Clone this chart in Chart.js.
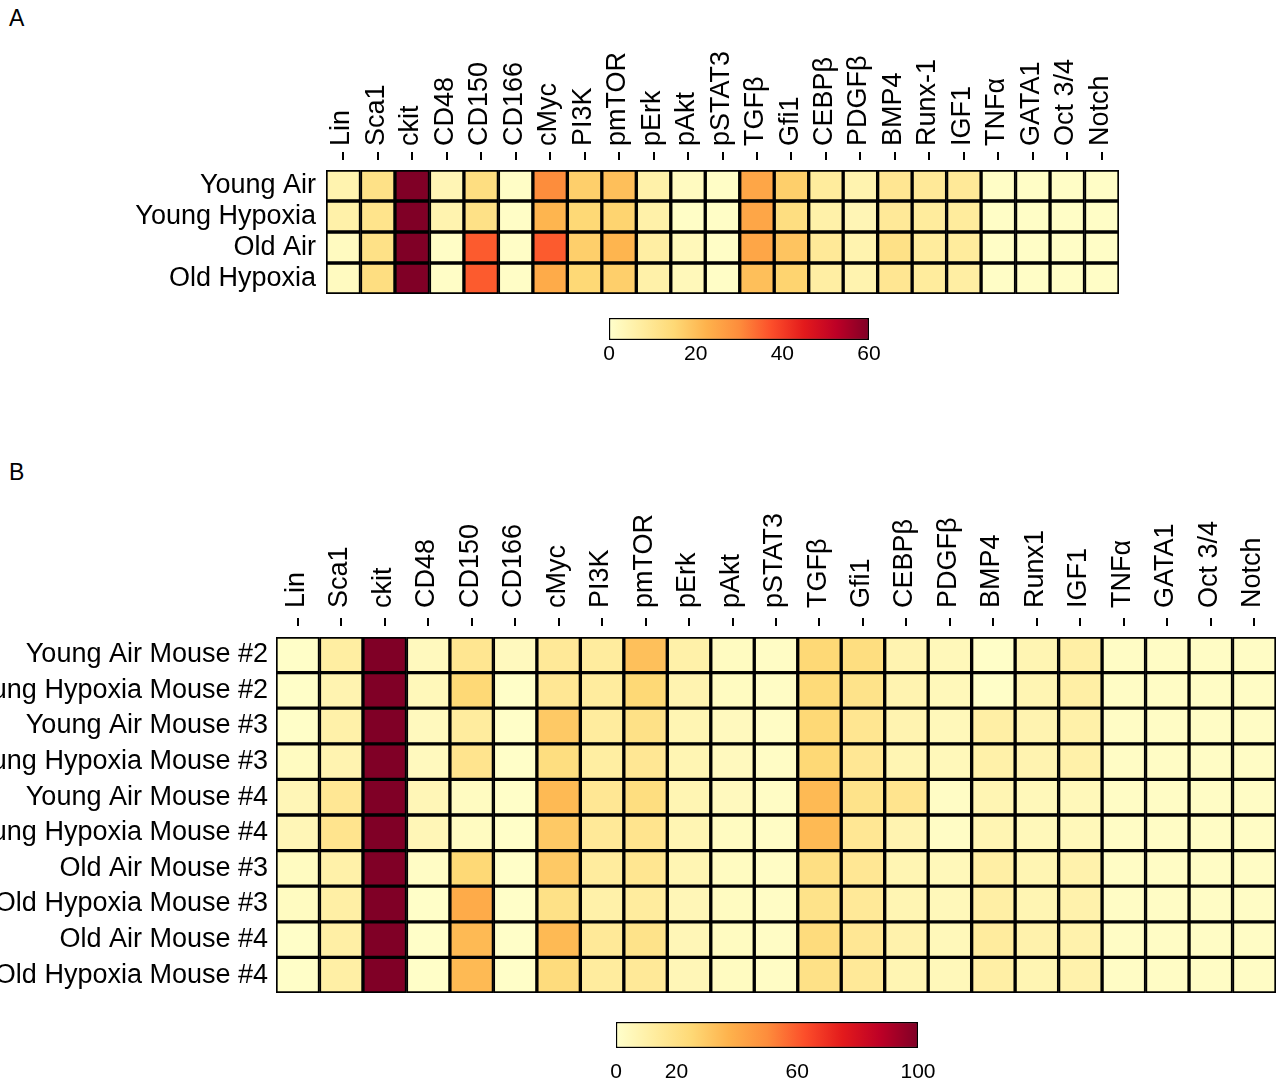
<!DOCTYPE html>
<html>
<head>
<meta charset="utf-8">
<script src="https://cdn.jsdelivr.net/npm/chart.js@4.4.0/dist/chart.umd.min.js"></script>
<style>
  body { margin: 0; width: 1280px; height: 1082px; overflow: hidden; background: #fff; font-family: "Liberation Sans", Arial, sans-serif; }
  .box { position: absolute; left: 0; width: 1280px; }
  .letter { position: absolute; left: 9px; font-size: 23px; color: #000; }
</style>
</head>
<body>
<div class="letter" style="top:5px">A</div>
<div class="letter" style="top:459px">B</div>
<div class="box" style="top:0;height:300px"><canvas id="heatA"></canvas></div>
<div class="box" style="top:310px;height:60px"><canvas id="barA"></canvas></div>
<div class="box" style="top:470px;height:530px"><canvas id="heatB"></canvas></div>
<div class="box" style="top:1014px;height:68px"><canvas id="barB"></canvas></div>
<script>
// markers (columns)
const colsA = ['Lin', 'Sca1', 'ckit', 'CD48', 'CD150', 'CD166', 'cMyc', 'PI3K', 'pmTOR', 'pErk', 'pAkt', 'pSTAT3',
  'TGFβ', 'Gfi1', 'CEBPβ', 'PDGFβ', 'BMP4', 'Runx-1', 'IGF1', 'TNFα', 'GATA1', 'Oct 3/4', 'Notch'];
const colsB = ['Lin', 'Sca1', 'ckit', 'CD48', 'CD150', 'CD166', 'cMyc', 'PI3K', 'pmTOR', 'pErk', 'pAkt', 'pSTAT3',
  'TGFβ', 'Gfi1', 'CEBPβ', 'PDGFβ', 'BMP4', 'Runx1', 'IGF1', 'TNFα', 'GATA1', 'Oct 3/4', 'Notch'];

// panel A: pooled groups
const rowsA = ['Young Air', 'Young Hypoxia', 'Old Air', 'Old Hypoxia'];
const youngAir      = [5, 12, 60, 4, 13, 1, 30, 17, 20, 6, 2, 1, 25, 17, 8, 5, 10, 9, 9, 1, 1, 1, 1];
const youngHypoxia  = [6, 11, 60, 5, 12, 1, 22, 15, 16, 6, 1, 1, 25, 13, 6, 4, 9, 8, 8, 1, 1, 1, 1];
const oldAir        = [2, 12, 60, 1, 36, 1, 36, 17, 22, 7, 3, 1, 25, 19, 9, 5, 12, 8, 8, 1, 1, 1, 1];
const oldHypoxia    = [2, 13, 60, 1, 36, 1, 24, 15, 17, 6, 3, 1, 20, 16, 7, 5, 10, 8, 7, 1, 1, 1, 1];
const valuesA = [youngAir, youngHypoxia, oldAir, oldHypoxia];
const maxA = 60;
const ticksA = [0, 20, 40, 60];

// panel B: individual mice
const rowsB = ['Young Air Mouse #2', 'Young Hypoxia Mouse #2', 'Young Air Mouse #3', 'Young Hypoxia Mouse #3',
  'Young Air Mouse #4', 'Young Hypoxia Mouse #4', 'Old Air Mouse #3', 'Old Hypoxia Mouse #3',
  'Old Air Mouse #4', 'Old Hypoxia Mouse #4'];
const yaM2 = [1, 12, 100, 4, 17, 4, 15, 13, 33, 10, 3, 2, 25, 22, 8, 5, 1, 7, 11, 2, 2, 2, 2];
const yhM2 = [1, 8, 100, 5, 25, 1, 16, 13, 25, 8, 3, 2, 24, 19, 8, 5, 1, 7, 11, 2, 2, 2, 2];
const yaM3 = [1, 10, 100, 4, 13, 1, 30, 13, 20, 7, 4, 2, 25, 17, 8, 5, 11, 8, 10, 2, 2, 2, 2];
const yhM3 = [3, 8, 100, 4, 18, 1, 22, 12, 16, 7, 4, 2, 25, 16, 7, 5, 10, 8, 10, 2, 2, 2, 2];
const yaM4 = [6, 16, 100, 6, 3, 1, 35, 16, 22, 7, 4, 2, 35, 19, 18, 2, 7, 5, 5, 2, 2, 2, 2];
const yhM4 = [6, 18, 100, 6, 3, 1, 30, 15, 18, 7, 3, 2, 35, 16, 8, 2, 7, 5, 5, 2, 2, 2, 2];
const oaM3 = [3, 10, 100, 2, 25, 1, 30, 13, 17, 7, 3, 2, 21, 16, 7, 5, 11, 7, 9, 2, 2, 2, 2];
const ohM3 = [3, 11, 100, 1, 40, 1, 20, 10, 13, 6, 3, 2, 19, 15, 7, 5, 11, 7, 9, 2, 2, 2, 2];
const oaM4 = [1, 11, 100, 1, 35, 1, 35, 15, 19, 6, 3, 2, 23, 16, 9, 5, 13, 9, 9, 2, 2, 2, 2];
const ohM4 = [1, 11, 100, 1, 35, 1, 23, 13, 15, 6, 3, 2, 20, 15, 7, 5, 11, 7, 9, 2, 2, 2, 2];
const valuesB = [yaM2, yhM2, yaM3, yhM3, yaM4, yhM4, oaM3, ohM3, oaM4, ohM4];
const maxB = 100;
const ticksB = [0, 20, 60, 100];

const FONT = '"Liberation Sans", Arial, sans-serif';

// YlOrRd
const palette = ['#ffffcc', '#ffeda0', '#fed976', '#feb24c', '#fd8d3c', '#fc4e2a', '#e31a1c', '#bd0026', '#800026'];
const rgb = palette.map(h => [1, 3, 5].map(i => parseInt(h.substr(i, 2), 16)));

function colorAt(t) {
  t = Math.max(0, Math.min(1, t));
  const p = t * (rgb.length - 1);
  const i = Math.min(Math.floor(p), rgb.length - 2);
  const f = p - i;
  const c = rgb[i].map((v, k) => Math.round(v + (rgb[i + 1][k] - v) * f));
  return 'rgb(' + c.join(',') + ')';
}

// small ticks between the column labels and the grid
const tickMarks = {
  id: 'tickMarks',
  afterDraw(chart, args, o) {
    const x = chart.scales.x;
    const top = chart.chartArea.top;
    const ctx = chart.ctx;
    ctx.save();
    ctx.strokeStyle = '#000';
    ctx.lineWidth = 2;
    x.ticks.forEach((t, i) => {
      const px = Math.round(x.getPixelForTick(i));
      ctx.beginPath();
      ctx.moveTo(px, top - o.from);
      ctx.lineTo(px, top - o.to);
      ctx.stroke();
    });
    ctx.restore();
  }
};

function heatmap(id, cols, rows, values, vmax, o) {
  const datasets = rows.map((name, r) => ({
    label: name,
    data: cols.map(() => [r, r + 1]),
    backgroundColor: values[r].map(v => colorAt(v / vmax)),
    borderColor: '#000',
    borderWidth: 2,
    borderSkipped: false,
    categoryPercentage: 1,
    barPercentage: 1,
    grouped: false
  }));

  new Chart(document.getElementById(id), {
    type: 'bar',
    data: { labels: cols, datasets: datasets },
    plugins: [tickMarks],
    options: {
      responsive: true,
      maintainAspectRatio: false,
      animation: false,
      layout: { padding: o.pad },
      plugins: {
        legend: { display: false },
        tooltip: { enabled: false },
        tickMarks: o.marks
      },
      scales: {
        x: {
          position: 'top',
          grid: { display: false, drawTicks: false },
          border: { display: false },
          afterFit: ax => { ax.height = o.xh; ax.paddingLeft = 0; ax.paddingRight = 0; },
          ticks: {
            autoSkip: false,
            maxRotation: 90,
            minRotation: 90,
            padding: o.xpad,
            labelOffset: o.xoff,
            color: '#000',
            font: { size: 27, family: FONT }
          }
        },
        y: {
          type: 'linear',
          reverse: true,
          min: 0,
          max: rows.length,
          grid: { display: false, drawTicks: false },
          border: { display: false },
          afterBuildTicks: ax => { ax.ticks = rows.map((_, i) => ({ value: i + 0.5 })); },
          afterFit: ax => { ax.width = o.yw; ax.paddingTop = 0; ax.paddingBottom = 0; },
          ticks: {
            autoSkip: false,
            padding: o.ypad,
            color: '#000',
            font: { size: 27, family: FONT },
            callback: v => rows[Math.floor(v)]
          }
        }
      }
    }
  });
}

function gradient(chart) {
  const area = chart.chartArea;
  if (!area) return '#fff';
  const g = chart.ctx.createLinearGradient(area.left, 0, area.right, 0);
  palette.forEach((c, i) => g.addColorStop(i / (palette.length - 1), c));
  return g;
}

function colorbar(id, vmax, ticks, o) {
  new Chart(document.getElementById(id), {
    type: 'bar',
    data: {
      labels: [''],
      datasets: [{
        data: [[0, vmax]],
        backgroundColor: ctx => gradient(ctx.chart),
        borderColor: '#000',
        borderWidth: 1.5,
        borderSkipped: false,
        categoryPercentage: 1,
        barPercentage: 1
      }]
    },
    options: {
      indexAxis: 'y',
      responsive: true,
      maintainAspectRatio: false,
      animation: false,
      layout: { padding: o.pad },
      plugins: { legend: { display: false }, tooltip: { enabled: false } },
      scales: {
        x: {
          type: 'linear',
          min: 0,
          max: vmax,
          grid: { display: false, drawTicks: false },
          border: { display: false },
          afterBuildTicks: ax => { ax.ticks = ticks.map(v => ({ value: v })); },
          afterFit: ax => { ax.height = o.xh; },
          ticks: { padding: o.tpad, color: '#000', font: { size: 21, family: FONT } }
        },
        y: { display: false }
      }
    }
  });
}

heatmap('heatA', colsA, rowsA, valuesA, maxA, {
  pad: { left: 0, right: 161, top: 0, bottom: 6 },
  xh: 170, yw: 326, xpad: 24, xoff: 31, ypad: 10,
  marks: { from: 10, to: 18 }
});
colorbar('barA', maxA, ticksA, {
  pad: { left: 609, right: 411, top: 8, bottom: 0 },
  xh: 30, tpad: 2
});

heatmap('heatB', colsB, rowsB, valuesB, maxB, {
  pad: { left: 0, right: 4, top: 0, bottom: 7 },
  xh: 167, yw: 276, xpad: 29, xoff: 31, ypad: 8,
  marks: { from: 11, to: 19 }
});
colorbar('barB', maxB, ticksB, {
  pad: { left: 616, right: 362, top: 8, bottom: 0 },
  xh: 34, tpad: 12
});
</script>
</body>
</html>
